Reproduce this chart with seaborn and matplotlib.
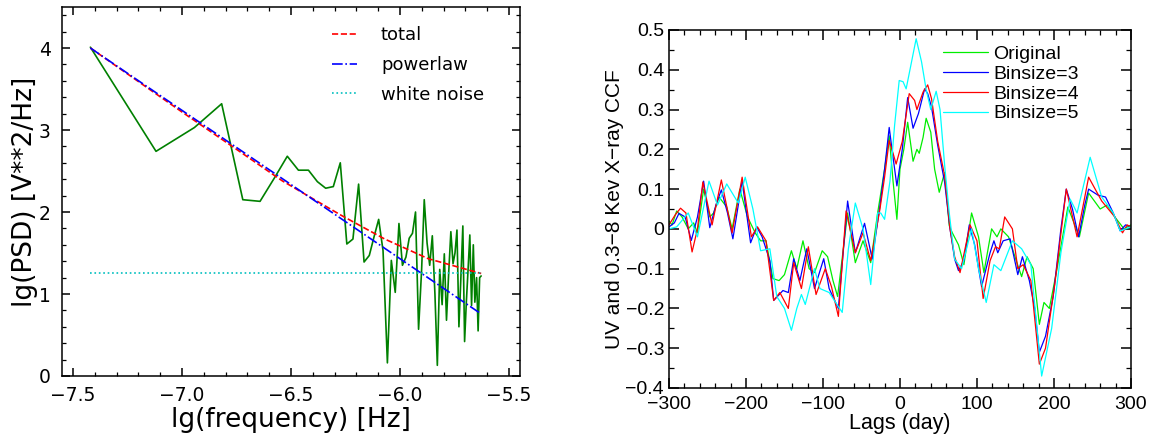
import matplotlib
matplotlib.use('Agg')
import matplotlib.pyplot as plt
from matplotlib.ticker import MultipleLocator, FuncFormatter
import seaborn as sns

# --- left panel: PSD ---
lg_freq = [-7.420, -7.119, -6.943, -6.818, -6.721, -6.642, -6.575, -6.517, -6.466, -6.420,
           -6.379, -6.341, -6.306, -6.274, -6.244, -6.216, -6.190, -6.165, -6.141, -6.119,
           -6.098, -6.078, -6.058, -6.040, -6.022, -6.005, -5.989, -5.973, -5.958, -5.943,
           -5.929, -5.915, -5.901, -5.889, -5.876, -5.864, -5.852, -5.840, -5.829, -5.818,
           -5.807, -5.797, -5.787, -5.777, -5.767, -5.757, -5.748, -5.739, -5.730, -5.721,
           -5.712, -5.704, -5.696, -5.688, -5.680, -5.672, -5.664, -5.657, -5.649, -5.642,
           -5.635, -5.628]
lg_psd = [4.01, 2.74, 3.03, 3.32, 2.15, 2.13, 2.42, 2.68, 2.51, 2.51,
          2.37, 2.29, 2.31, 2.60, 1.61, 1.67, 2.34, 1.39, 1.47, 1.70,
          1.91, 1.53, 0.16, 1.41, 1.02, 1.86, 1.35, 1.45, 1.68, 1.74,
          2.00, 0.57, 1.30, 2.15, 1.62, 1.35, 1.71, 1.00, 0.13, 1.30,
          0.87, 1.49, 0.68, 1.25, 1.76, 1.37, 1.50, 1.78, 0.60, 1.20,
          1.83, 0.42, 0.90, 1.30, 1.72, 0.86, 1.60, 0.90, 1.20, 0.55,
          1.20, 1.22]

fit_freq = [-7.42, -7.0, -6.72, -6.54, -6.27, -6.07, -5.87, -5.628]
fit_total = [4.0, 3.22, 2.71, 2.38, 1.96, 1.67, 1.43, 1.25]
pl_freq = [-7.42, -6.42, -5.628]
pl_psd = [4.0, 2.19, 0.757]
wn_freq = [-7.42, -5.628]
wn_psd = [1.26, 1.26]

# --- right panel: CCF ---
lag_g = [-300, -296, -290, -283, -275, -268, -263, -255, -247, -242, -235, -225, -218, -208, -198,
         -188, -181, -174, -165, -157, -150, -141, -134, -126, -118, -111, -101, -94, -87, -81,
         -68, -58, -48, -38, -29, -20, -14, -9, -4, 0, 5, 10, 17, 22, 25, 30, 34, 40, 45, 51,
         58, 64, 68, 76, 83, 93, 102, 109, 119, 126, 131, 141, 151, 158, 165, 173, 181, 187,
         194, 204, 218, 233, 245, 260, 269, 279, 291, 300]
ccf_g = [0.02, 0.01, 0.045, 0.03, 0.0, 0.015, -0.01, 0.1, 0.03, 0.04, 0.08, 0.055, 0.0, 0.1, 0.03,
         -0.01, -0.03, -0.03, -0.125, -0.13, -0.115, -0.055, -0.1, -0.03, -0.1, -0.11, -0.055, -0.07, -0.13, -0.17,
         0.04, -0.085, -0.03, -0.085, 0.04, 0.15, 0.234, 0.12, 0.024, 0.15, 0.2, 0.268, 0.17, 0.2, 0.19,
         0.23, 0.278, 0.243, 0.15, 0.092, 0.142, 0.008, -0.01, -0.04, -0.09, 0.04, -0.02, -0.11, 0.0, -0.02,
         0.0, -0.02, -0.08, -0.12, -0.07, -0.1, -0.24, -0.185, -0.2, -0.1, 0.055, -0.02, 0.09, 0.05, 0.06,
         0.03, 0.0, 0.01]

lag_b = [-300, -293, -287, -279, -271, -263, -255, -247, -239, -232, -224, -217, -205, -194, -186,
         -179, -169, -164, -152, -145, -138, -130, -121, -111, -99, -92, -80, -68, -58, -46,
         -36, -26, -20, -14, -9, -4, 3, 10, 17, 24, 32, 36, 41, 49, 58, 65, 71, 76, 83, 90,
         97, 106, 117, 122, 127, 134, 143, 153, 159, 168, 175, 181, 189, 199, 209, 216, 224,
         232, 240, 245, 257, 267, 277, 286, 293, 300]
ccf_b = [0.005, 0.015, 0.039, 0.03, -0.029, 0.03, 0.12, 0.003, 0.06, 0.098, 0.04, -0.025, 0.12, -0.035, 0.005,
         -0.02, -0.08, -0.18, -0.155, -0.16, -0.075, -0.13, -0.05, -0.15, -0.075, -0.15, -0.2, 0.07, -0.06, 0.014,
         -0.076, 0.058, 0.15, 0.255, 0.18, 0.108, 0.2, 0.33, 0.253, 0.29, 0.352, 0.34, 0.306, 0.21, 0.117,
         0.0, -0.076, -0.105, -0.08, 0.01, -0.04, -0.145, -0.06, -0.03, -0.06, -0.03, -0.025, -0.115, -0.07, -0.13,
         -0.2, -0.31, -0.27, -0.17, 0.0, 0.1, 0.05, -0.02, 0.06, 0.1, 0.085, 0.08, 0.04, -0.005, 0.01, 0.005]

lag_r = [-300, -292, -285, -278, -270, -263, -256, -244, -232, -218, -205, -193, -185, -174, -164,
         -156, -145, -138, -128, -119, -109, -97, -89, -80, -70, -58, -48, -38, -26, -20,
         -14, -9, -5, 3, 12, 19, 22, 30, 36, 41, 49, 58, 65, 71, 78, 91, 100, 108, 117,
         124, 129, 136, 146, 153, 160, 170, 181, 189, 201, 216, 230, 245, 262, 279, 289, 295, 300]
ccf_r = [0.01, 0.035, 0.052, 0.04, -0.058, 0.0, 0.118, 0.01, 0.123, -0.01, 0.13, -0.02, 0.005, -0.03, -0.18,
         -0.16, -0.2, -0.085, -0.15, -0.045, -0.165, -0.1, -0.145, -0.22, 0.045, -0.06, -0.01, -0.08, 0.05, 0.13,
         0.222, 0.19, 0.163, 0.22, 0.34, 0.323, 0.30, 0.344, 0.362, 0.327, 0.22, 0.134, 0.0, -0.07, -0.11,
         0.01, -0.03, -0.175, -0.08, -0.045, -0.05, 0.03, 0.0, -0.1, -0.09, -0.13, -0.34, -0.3, -0.14, 0.1,
         -0.02, 0.13, 0.07, 0.03, -0.01, 0.01, 0.005]

lag_c = [-300, -290, -275, -263, -248, -237, -225, -210, -201, -191, -181, -169, -160, -150, -141,
         -134, -128, -123, -111, -104, -92, -75, -67, -58, -48, -38, -29, -25, -20, -13,
         -7, -1, 4, 8, 14, 21, 28, 34, 40, 47, 52, 58, 64, 71, 80, 93, 102, 112, 122,
         131, 146, 158, 170, 184, 197, 209, 221, 230, 247, 262, 277, 286, 300]
ccf_c = [0.0, 0.005, 0.04, -0.02, 0.12, 0.06, 0.113, 0.065, 0.13, 0.05, -0.055, -0.05, -0.17, -0.2, -0.255,
         -0.2, -0.165, -0.19, -0.1, -0.15, -0.16, -0.21, -0.05, 0.065, 0.0, -0.14, 0.04, 0.04, 0.024, 0.12,
         0.26, 0.373, 0.37, 0.352, 0.41, 0.478, 0.42, 0.35, 0.30, 0.346, 0.30, 0.16, 0.04, -0.076, -0.1,
         0.0, -0.1, -0.185, -0.09, -0.105, -0.03, -0.05, -0.09, -0.37, -0.25, -0.06, 0.075, 0.04, 0.18, 0.08,
         0.04, -0.005, 0.005]

sns.set_style('ticks')
plt.rcParams['font.family'] = ['DejaVu Sans']
plt.rcParams['axes.linewidth'] = 1.1
for key in ['text.color', 'axes.labelcolor', 'xtick.color', 'ytick.color', 'axes.edgecolor']:
    plt.rcParams[key] = 'black'

fig = plt.figure(figsize=(11.55, 4.41), dpi=100)

# left
ax1 = fig.add_axes([0.0537, 0.1474, 0.3965, 0.8367])
sns.lineplot(x=lg_freq, y=lg_psd, ax=ax1, color='green', lw=1.2)
sns.lineplot(x=fit_freq, y=fit_total, ax=ax1, color='red', lw=1.2, linestyle='--', label='total')
sns.lineplot(x=pl_freq, y=pl_psd, ax=ax1, color='blue', lw=1.2, linestyle='-.', label='powerlaw')
sns.lineplot(x=wn_freq, y=wn_psd, ax=ax1, color=(0, 0.75, 0.75), lw=1.2, linestyle=':', label='white noise')
ax1.set_xlim(-7.55, -5.45)
ax1.set_ylim(0, 4.5)
ax1.xaxis.set_major_locator(MultipleLocator(0.5))
ax1.xaxis.set_minor_locator(MultipleLocator(0.1))
ax1.yaxis.set_major_locator(MultipleLocator(1))
ax1.yaxis.set_minor_locator(MultipleLocator(0.2))
ax1.tick_params(which='both', direction='in', top=True, right=True, labelsize=13.5)
ax1.tick_params(which='major', length=6, width=1.1)
ax1.tick_params(which='minor', length=3, width=0.9)
ax1.tick_params(axis='x', which='major', pad=7)
ax1.tick_params(axis='y', which='major', pad=8)
ax1.set_xlabel('lg(frequency) [Hz]', fontsize=19, labelpad=2)
ax1.set_ylabel('lg(PSD) [V**2/Hz]', fontsize=19)
ax1.yaxis.set_label_coords(-0.052, 0.5)
ax1.legend(loc='upper left', bbox_to_anchor=(0.59, 0.948), frameon=False, fontsize=13,
           handlelength=1.4, handletextpad=1.3, labelspacing=0.65, borderpad=0, borderaxespad=0)

# right
rfont = 'Liberation Sans'
ax2 = fig.add_axes([0.5792, 0.1202, 0.4, 0.8118])
sns.lineplot(x=lag_g, y=ccf_g, ax=ax2, color='#00ee00', lw=0.9, label='Original')
sns.lineplot(x=lag_b, y=ccf_b, ax=ax2, color='#0000ff', lw=0.9, label='Binsize=3')
sns.lineplot(x=lag_r, y=ccf_r, ax=ax2, color='#ff0000', lw=0.9, label='Binsize=4')
sns.lineplot(x=lag_c, y=ccf_c, ax=ax2, color='#00ffff', lw=0.9, label='Binsize=5')
ax2.set_xlim(-300, 300)
ax2.set_ylim(-0.4, 0.5)
ax2.xaxis.set_major_locator(MultipleLocator(100))
ax2.xaxis.set_minor_locator(MultipleLocator(20))
ax2.yaxis.set_major_locator(MultipleLocator(0.1))
ax2.yaxis.set_minor_locator(MultipleLocator(0.05))
fmt = FuncFormatter(lambda v, p: ('%g' % round(v, 6)).replace('-', '\u2212'))
ax2.xaxis.set_major_formatter(fmt)
ax2.yaxis.set_major_formatter(fmt)
ax2.tick_params(which='both', direction='in', top=True, right=True, labelsize=14,
                labelfontfamily=rfont)
ax2.tick_params(which='major', length=7, width=1.1)
ax2.tick_params(which='minor', length=3.5, width=0.9)
ax2.tick_params(axis='x', which='major', pad=6)
ax2.set_xlabel('Lags (day)', fontsize=15.5, family=rfont, labelpad=0)
ax2.set_ylabel('UV and 0.3\u22128 Kev X\u2212ray CCF', fontsize=15, family=rfont)
ax2.yaxis.set_label_coords(-0.097, 0.5)
ax2.legend(loc='upper left', bbox_to_anchor=(0.593, 0.958), frameon=False,
           prop={'family': rfont, 'size': 14},
           handlelength=2.3, handletextpad=0.3, labelspacing=0.12, borderpad=0, borderaxespad=0)

fig.savefig('out.png', dpi=100)
